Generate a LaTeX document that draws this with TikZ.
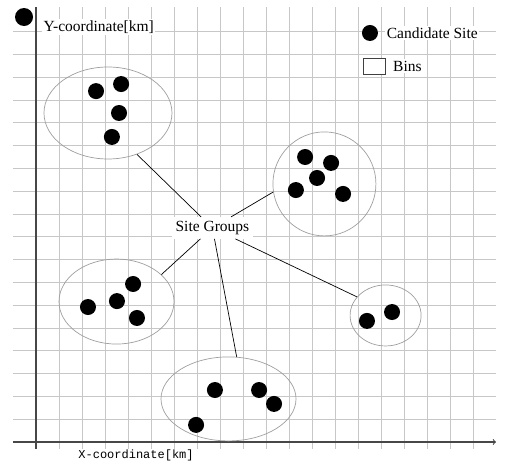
\documentclass[tikz,border=0pt]{standalone}
\usepackage{fontspec}
\setmainfont{Liberation Serif}
\setmonofont{Liberation Mono}
\usetikzlibrary{shapes.geometric,positioning}

\begin{document}
\begin{tikzpicture}
		[x=23pt, y=22.8pt,
		gridline/.style ={draw=black!22, line width=0.8pt},
		axisline/.style ={draw=black!72, line width=1.1pt},
		site/.style ={circle, fill=black, inner sep=0pt, minimum size=16pt},
		group/.style ={ellipse, draw=black!38, line width=0.7pt, inner sep=0pt},
		note/.style ={fill=white, inner sep=1.5pt, font=\fontsize{15.5}{18}\selectfont},
		link/.style ={draw, line width=0.7pt},
		]
		\useasboundingbox (-1.565,-1.053) rectangle (20.522,19.386);

		% bins
		\foreach \i in {1,...,19}
			\draw[gridline] (\i,-0.3) -- (\i,19.1);
		\foreach \j in {1,...,18}
			\draw[gridline] (-1,\j) -- (20,\j);

		% axes
		\draw[axisline] (0,-0.3) -- (0,19.1);
		\draw[axisline, ->] (-1,0) -- (20,0);

		\draw (-0.52,18.64) node[site, minimum size=18pt] (P0) {};
		\draw (0.26,18.2) node[note, anchor=west] (YL) {Y-coordinate[km]};
		\draw (4.35,-0.6) node[font=\ttfamily\fontsize{12}{14}\selectfont] (XL) {X-coordinate[km]};

		% legend
		\draw (14.52,17.94) node[site] (LS) {};
		\node[note, right=7pt of LS] (LT) {Candidate Site};
		\draw (14.70,16.49) node[draw=black!75, line width=0.8pt, fill=white, minimum width=22pt, minimum height=16pt, inner sep=0pt] (LB) {};
		\node[note, right=6pt of LB] (LBT) {Bins};

		% site groups
		\draw (3.13,14.43) node[group, minimum width=128pt, minimum height=92pt] (G1) {};
		\draw (12.54,11.32) node[group, minimum width=103pt, minimum height=104pt] (G2) {};
		\draw (3.50,6.16) node[group, minimum width=115pt, minimum height=85pt] (G3) {};
		\draw (8.37,1.89) node[group, minimum width=135pt, minimum height=84pt] (G4) {};
		\draw (15.20,5.55) node[group, minimum width=71pt, minimum height=61pt] (G5) {};

		\draw (2.61,15.39) node[site] (S11) {};
		\draw (3.70,15.70) node[site] (S12) {};
		\draw (3.61,14.43) node[site] (S13) {};
		\draw (3.30,13.38) node[site] (S14) {};
		\draw (11.70,12.50) node[site] (S21) {};
		\draw (12.83,12.24) node[site] (S22) {};
		\draw (12.22,11.58) node[site] (S23) {};
		\draw (11.30,11.05) node[site] (S24) {};
		\draw (13.35,10.88) node[site] (S25) {};
		\draw (2.26,5.92) node[site] (S31) {};
		\draw (3.52,6.18) node[site] (S32) {};
		\draw (4.22,6.93) node[site] (S33) {};
		\draw (4.39,5.44) node[site] (S34) {};
		\draw (7.78,2.28) node[site] (S41) {};
		\draw (6.96,0.75) node[site] (S42) {};
		\draw (9.70,2.28) node[site] (S43) {};
		\draw (10.35,1.67) node[site] (S44) {};
		\draw (14.39,5.31) node[site] (S51) {};
		\draw (15.48,5.70) node[site] (S52) {};

		\draw (7.67,9.39) node[note, inner sep=4pt] (SG) {Site Groups};

		\path[link]
		(G1.305) -- (SG)
		(G2.189) -- (SG)
		(G3.31) -- (SG)
		(G4.79) -- (SG)
		(G5.147) -- (SG);
	\end{tikzpicture}
\end{document}
